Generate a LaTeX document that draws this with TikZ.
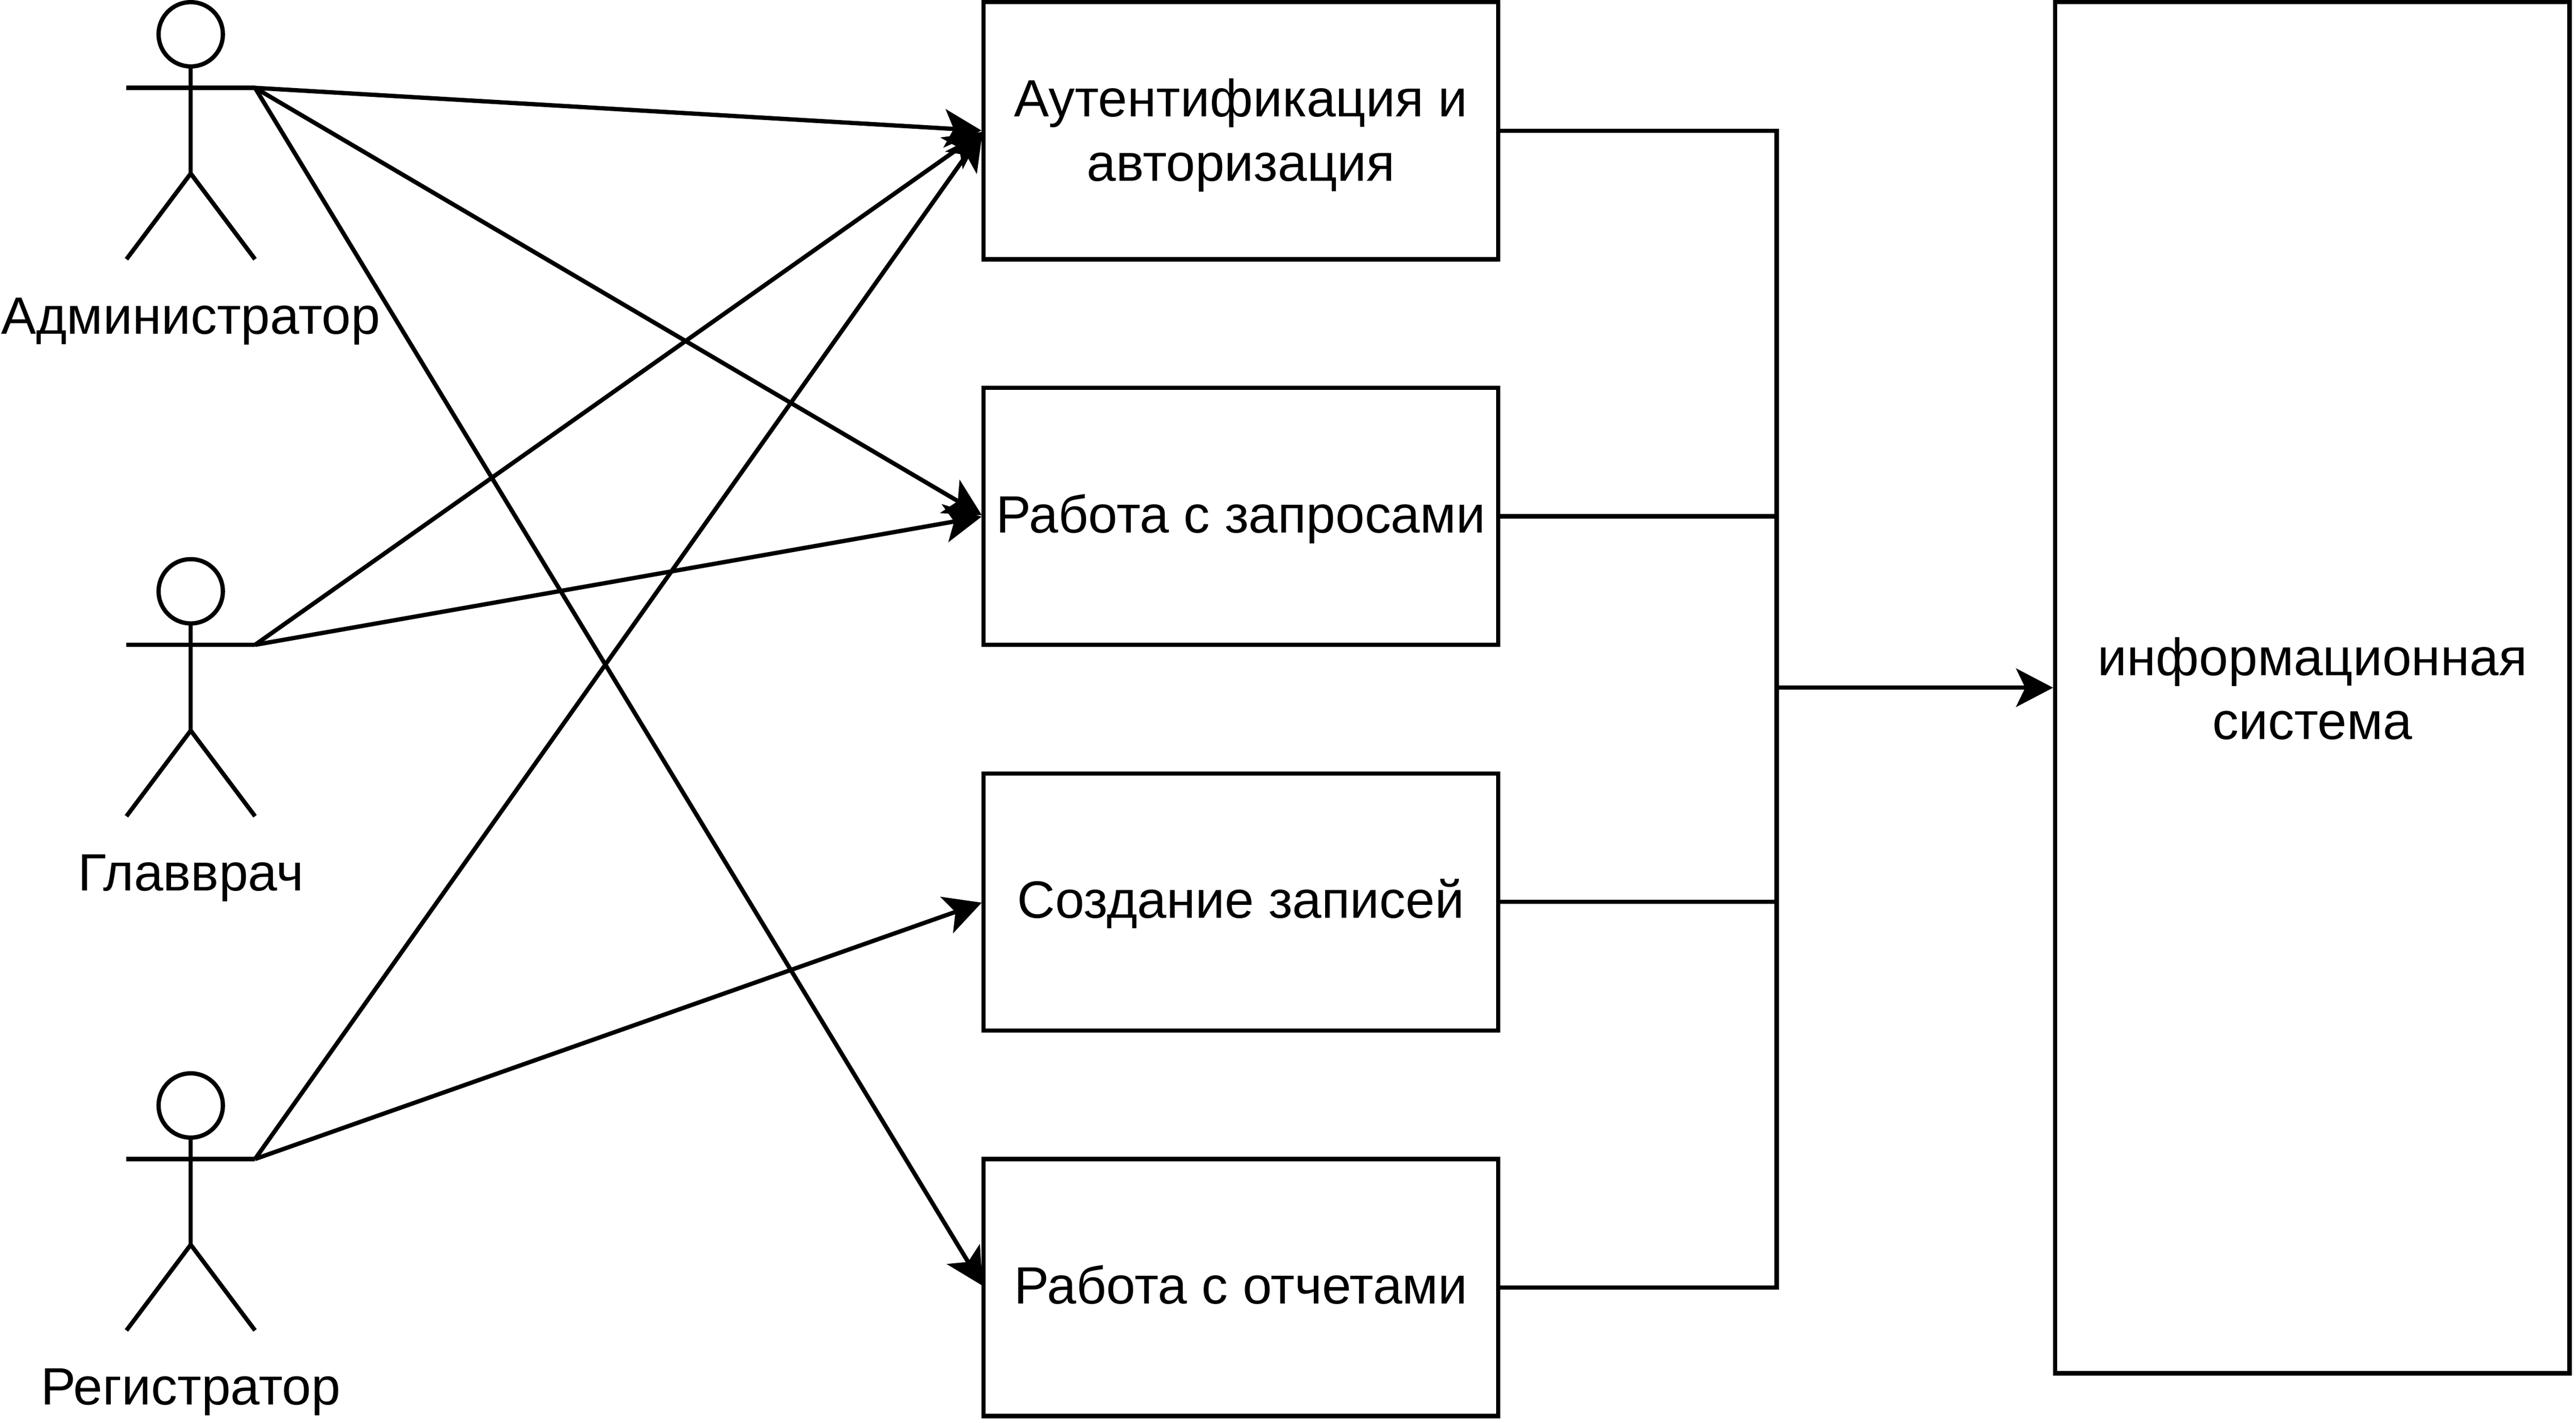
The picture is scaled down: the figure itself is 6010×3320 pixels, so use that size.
\documentclass[tikz,border=0pt]{standalone}
\usepackage{fontspec}
\setmainfont{Liberation Sans}
\usetikzlibrary{arrows.meta}
\newcommand{\lstrut}[1][7.4pt]{\rule[-#1]{0pt}{30pt}}
\tikzset{
  box/.style={draw=black,line width=2pt,inner sep=0pt,outer sep=0pt,minimum height=120pt,align=center,font=\fontsize{24.5}{30}\selectfont},
  stdbox/.style={box,minimum width=240pt},
  bigbox/.style={box,minimum width=240pt,minimum height=640pt},
  limb/.style={draw=black,line width=2pt},
  head/.style={circle,draw=black,line width=2pt,inner sep=0pt,outer sep=0pt,minimum size=30pt},
  actorlabel/.style={inner sep=0pt,font=\fontsize{24.5}{30}\selectfont},
  link/.style={draw=black,line width=2pt},
  flow/.style={link,shorten >=1pt,-{Stealth[length=17.4pt,width=18.2pt,inset=4.4pt,line width=0pt]}}
}
\newcommand{\actorfig}[4]{%
  % #1 id, #2 centre x, #3 top y, #4 label
  \node[head] (#1h) at (#2,#3+75) {};
  \coordinate (#1l) at (#2-150,#3+200);
  \coordinate (#1r) at (#2+150,#3+200);
  \coordinate (#1c) at (#2,#3+400);
  \coordinate (#1fl) at (#2-150,#3+600);
  \coordinate (#1fr) at (#2+150,#3+600);
  \draw[limb] (#1h.south) -- (#1c);
  \draw[limb] (#1l) -- (#1r);
  \draw[limb] (#1fl) -- (#1c) -- (#1fr);
  \node[actorlabel] (#1t) at (#2,#3+736) {\lstrut#4};
}
\begin{document}
\begin{tikzpicture}[x=0.2pt,y=-0.2pt]
\useasboundingbox (0,0) rectangle (6010,3320);
\actorfig{a}{445}{5}{Администратор}
\actorfig{b}{445}{1305}{Главврач}
\actorfig{c}{445}{2505}{Регистратор}
\node[stdbox] (r1) at (2895,305) {\lstrut[6.6pt]Аутентификация и\\\lstrut[6.6pt]авторизация};
\node[stdbox] (r2) at (2895,1205) {\lstrut Работа с запросами};
\node[stdbox] (r3) at (2895,2105) {\lstrut Создание записей};
\node[stdbox] (r4) at (2895,3005) {\lstrut Работа с отчетами};
\node[bigbox] (sys) at (5395,1605) {\lstrut[5.8pt]информационная\\\lstrut[5.8pt]система};
\coordinate (j1) at (4145,305);
\coordinate (j4) at (4145,3005);
\coordinate (jm) at (4145,1605);
\draw[flow] (ar) -- (r1.west);
\draw[flow] (ar) -- (r2.west);
\draw[flow] (ar) -- (r4.west);
\draw[flow] (br) -- (r1.west);
\draw[flow] (br) -- (r2.west);
\draw[flow] (cr) -- (r1.west);
\draw[flow] (cr) -- (r3.west);
\draw[link] (r1.east) -- (j1) -- (j4) -- (r4.east);
\draw[link] (r2.east) -- (r2.east -| j1);
\draw[link] (r3.east) -- (r3.east -| j1);
\draw[flow] (jm) -- (sys.west);
\end{tikzpicture}
\end{document}
